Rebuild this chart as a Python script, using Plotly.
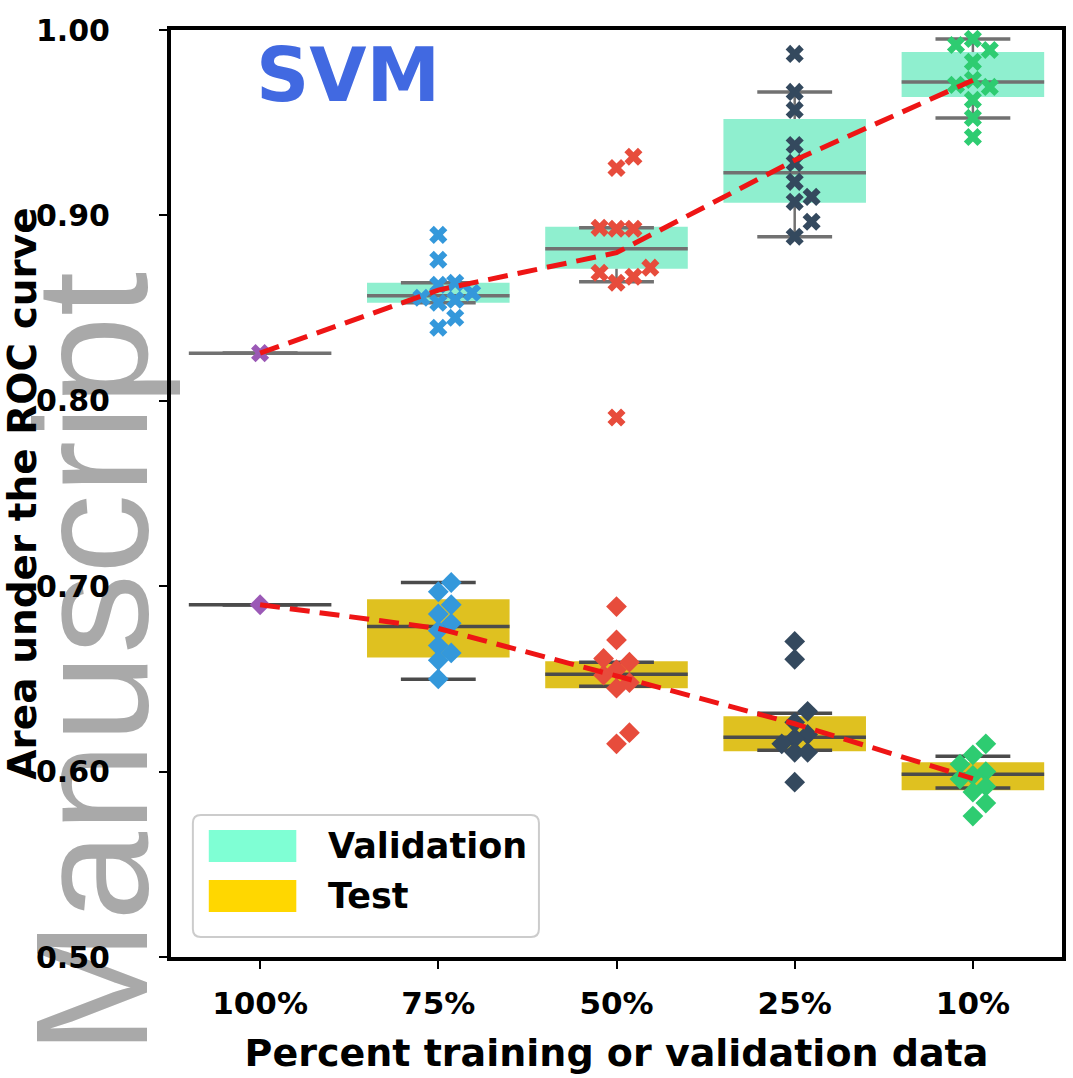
import numpy as np
import plotly.graph_objects as go

# ---------------- data ----------------
categories = ["100%", "75%", "50%", "25%", "10%"]
point_colors = ["#9B59B6", "#3498DB", "#E74C3C", "#34495E", "#2ECC71"]

val_points = [
    [0.8257],
    [0.8895, 0.8761, 0.8637, 0.8583, 0.8556, 0.8529, 0.8545, 0.8626, 0.8448, 0.8394],
    [0.9316, 0.9256, 0.8928, 0.8928, 0.8933, 0.8669, 0.8637, 0.8691, 0.8718, 0.7910],
    [0.9871, 0.9666, 0.9569, 0.9380, 0.9283, 0.9181, 0.9100, 0.9073, 0.8966, 0.8885],
    [0.9952, 0.9919, 0.9892, 0.9828, 0.9731, 0.9704, 0.9693, 0.9623, 0.9526, 0.9423],
]
test_points = [
    [0.6900],
    [0.702, 0.697, 0.690, 0.685, 0.680, 0.676, 0.668, 0.664, 0.660, 0.650],
    [0.689, 0.671, 0.661, 0.659, 0.655, 0.652, 0.648, 0.645, 0.621, 0.615],
    [0.6702, 0.6606, 0.6325, 0.6266, 0.620, 0.618, 0.615, 0.6104, 0.6104, 0.5943],
    [0.615, 0.609, 0.604, 0.600, 0.598, 0.596, 0.592, 0.589, 0.583, 0.576],
]

# box statistics
val_q1 = [0.8257, 0.8529, 0.8712, 0.9068, 0.9639]
val_med = [0.8257, 0.8567, 0.8820, 0.9230, 0.9720]
val_q3 = [0.8257, 0.8637, 0.8939, 0.9520, 0.9881]
val_lo = [0.8257, 0.8529, 0.8642, 0.8885, 0.9526]
val_hi = [0.8257, 0.8637, 0.8933, 0.9666, 0.9952]

test_q1 = [0.6900, 0.6616, 0.6449, 0.6110, 0.5900]
test_med = [0.6900, 0.6783, 0.6525, 0.6185, 0.5986]
test_q3 = [0.6900, 0.6929, 0.6595, 0.6298, 0.6051]
test_lo = [0.6900, 0.6498, 0.6460, 0.6115, 0.5911]
test_hi = [0.6900, 0.7020, 0.6590, 0.6315, 0.6083]

y_ticks = [0.5, 0.6, 0.7, 0.8, 0.9, 1.0]

# ---------------- geometry helpers ----------------
W, H = 1073, 1078
ML, MR, MT, MB = 170, 7, 30, 121
PW, PH = W - ML - MR, H - MT - MB
Y0, Y1 = 0.5, 1.0
X0, X1 = -0.5, 4.5
px_per_y = PH / (Y1 - Y0)
px_per_x = PW / (X1 - X0)

BOX_W = 0.8
CAP_W = 0.42


def swarm_offsets(values, d_px):
    vals = np.asarray(values, dtype=float)
    order = np.argsort(vals)
    placed = []
    offs = np.zeros(len(vals))
    for i in order:
        y = vals[i] * px_per_y
        cands = [0.0]
        for k in range(1, 30):
            cands += [k * d_px, -k * d_px]
        for c in cands:
            ok = all((c - px) ** 2 + (y - py) ** 2 >= (d_px * 0.999) ** 2 for px, py in placed)
            if ok:
                placed.append((c, y))
                offs[i] = c / px_per_x
                break
    return offs


def px_to_paper_x(px):
    return (px - ML) / PW


def px_to_paper_y(py):
    return (H - MB - py) / PH


fig = go.Figure()

xs = np.arange(len(categories))

# boxes
VAL_FILL = "#8FEFCF"
TEST_FILL = "#DFC120"
for q1, q3, fill in [(val_q1, val_q3, VAL_FILL), (test_q1, test_q3, TEST_FILL)]:
    fig.add_trace(go.Bar(
        x=xs, y=np.array(q3) - np.array(q1), base=q1, width=BOX_W,
        marker=dict(color=fill, line=dict(width=0)), hoverinfo="skip",
    ))


def box_lines(q1, med, q3, lo, hi, color):
    wx, wy = [], []
    cx, cy = [], []
    mx, my = [], []
    for i in range(len(xs)):
        x = xs[i]
        wx += [x, x, None, x, x, None]
        wy += [q3[i], hi[i], None, q1[i], lo[i], None]
        cx += [x - CAP_W / 2, x + CAP_W / 2, None, x - CAP_W / 2, x + CAP_W / 2, None]
        cy += [hi[i], hi[i], None, lo[i], lo[i], None]
        mx += [x - BOX_W / 2, x + BOX_W / 2, None]
        my += [med[i], med[i], None]
    fig.add_trace(go.Scatter(x=wx, y=wy, mode="lines", line=dict(color=color, width=2.5), hoverinfo="skip"))
    fig.add_trace(go.Scatter(x=cx, y=cy, mode="lines", line=dict(color=color, width=3.5), hoverinfo="skip"))
    fig.add_trace(go.Scatter(x=mx, y=my, mode="lines", line=dict(color=color, width=3.5), hoverinfo="skip"))


box_lines(val_q1, val_med, val_q3, val_lo, val_hi, "#717171")
box_lines(test_q1, test_med, test_q3, test_lo, test_hi, "#4b4b4b")

# points (swarm)
for pts_all, sym, size, d in [(val_points, "x", 16, 17), (test_points, "diamond", 16, 13)]:
    for i, pts in enumerate(pts_all):
        offs = swarm_offsets(pts, d)
        fig.add_trace(go.Scatter(
            x=xs[i] + offs, y=pts, mode="markers",
            marker=dict(symbol=sym, size=size, color=point_colors[i], line=dict(width=0)),
            hoverinfo="skip",
        ))

# mean lines
for pts_all in (val_points, test_points):
    means = [float(np.mean(p)) for p in pts_all]
    fig.add_trace(go.Scatter(
        x=xs, y=means, mode="lines",
        line=dict(color="#EE1515", width=5, dash="20px,10px"), hoverinfo="skip",
    ))

FONT = "DejaVu Sans"
fig.update_layout(
    width=W, height=H,
    margin=dict(l=ML, r=MR, t=MT, b=MB),
    plot_bgcolor="white", paper_bgcolor="white",
    showlegend=False, barmode="overlay",
    font=dict(family=FONT, color="black"),
)
fig.update_xaxes(
    range=[X0, X1], tickvals=list(xs), ticktext=categories,
    showline=True, linewidth=4, linecolor="black", mirror=True,
    ticks="outside", ticklen=8, tickwidth=2, tickcolor="black",
    ticklabelstandoff=8,
    showgrid=False, zeroline=False,
    tickfont=dict(size=31, family=FONT, weight="bold", color="black"),
    title=dict(text="Percent training or validation data",
               font=dict(size=38, family=FONT, weight="bold", color="black"), standoff=20),
)
fig.update_yaxes(
    range=[Y0, Y1], tickvals=y_ticks, ticktext=[f"{v:.2f}" for v in y_ticks],
    showline=True, linewidth=4, linecolor="black", mirror=True,
    ticks="outside", ticklen=8, tickwidth=2, tickcolor="black",
    ticklabelstandoff=43,
    showgrid=False, zeroline=False,
    tickfont=dict(size=30, family=FONT, weight="bold", color="black"),
    title=dict(text="Area under the ROC curve",
               font=dict(size=39, family=FONT, weight="bold", color="black"), standoff=2),
)

# title-like label
fig.add_annotation(
    x=px_to_paper_x(348), y=px_to_paper_y(75), xref="paper", yref="paper",
    text="SVM", showarrow=False, xanchor="center", yanchor="middle",
    font=dict(size=74, family=FONT, weight="bold", color="#4169E1"),
)

# legend (drawn manually)
lx0, lx1 = px_to_paper_x(192), px_to_paper_x(540)
ly0, ly1 = px_to_paper_y(937), px_to_paper_y(815)
rx, ry = 8 / PW, 8 / PH
path = (f"M {lx0+rx},{ly0} L {lx1-rx},{ly0} Q {lx1},{ly0} {lx1},{ly0+ry} "
        f"L {lx1},{ly1-ry} Q {lx1},{ly1} {lx1-rx},{ly1} L {lx0+rx},{ly1} "
        f"Q {lx0},{ly1} {lx0},{ly1-ry} L {lx0},{ly0+ry} Q {lx0},{ly0} {lx0+rx},{ly0} Z")
fig.add_shape(type="path", path=path, xref="paper", yref="paper",
              line=dict(color="#cccccc", width=2), fillcolor="rgba(255,255,255,0.85)", layer="above")
legend_items = [("Validation", "#7FFFD4", 846), ("Test", "#FFD700", 896)]
for name, col, cy in legend_items:
    fig.add_shape(type="rect", xref="paper", yref="paper",
                  x0=px_to_paper_x(208), x1=px_to_paper_x(296),
                  y0=px_to_paper_y(cy + 16), y1=px_to_paper_y(cy - 16),
                  fillcolor=col, line=dict(width=0), layer="above")
    fig.add_annotation(x=px_to_paper_x(326), y=px_to_paper_y(cy), xref="paper", yref="paper",
                       text=name, showarrow=False, xanchor="left", yanchor="middle",
                       font=dict(size=35, family=FONT, weight="bold", color="black"))

# watermark
wm_x = px_to_paper_x(75)
fig.add_shape(type="line", xref="paper", yref="paper",
              x0=wm_x, x1=wm_x, y0=px_to_paper_y(1063), y1=px_to_paper_y(263),
              layer="below", line=dict(width=1, color="rgba(0,0,0,0)"),
              label=dict(text="Manuscript", textangle=-90, textposition="middle",
                         xanchor="center", yanchor="middle",
                         font=dict(size=160, family="Liberation Sans", color="#a9a9a9")))

fig.write_html("out.html")
